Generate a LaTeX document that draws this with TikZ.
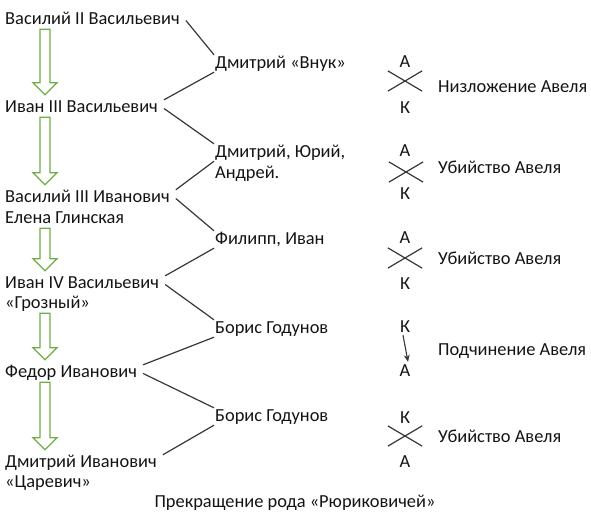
\documentclass[tikz,border=0pt]{standalone}
\usepackage{fontspec}
\setmainfont{Carlito}
\usetikzlibrary{calc,shapes.misc,arrows.meta}

\definecolor{gengreen}{RGB}{112,173,71}
\definecolor{linkgray}{RGB}{55,55,55}
\definecolor{inkblack}{RGB}{20,20,20}

\tikzset{
  ruler/.style={anchor=base west, inner xsep=6pt, inner ysep=1pt, text height=11pt, text depth=4pt},
  heir/.style={anchor=base west, inner xsep=1pt, inner ysep=2pt, text height=11pt, text depth=2pt},
  letter/.style={anchor=base, inner xsep=2pt, inner ysep=3pt, text height=11pt, text depth=0pt},
  note/.style={anchor=base west, inner sep=0pt},
  link/.style={linkgray, line width=1.2pt},
  crossmark/.style={cross out, draw=linkgray, line width=1.2pt, minimum width=33pt, minimum height=19pt, inner sep=0pt},
  genarrow/.style={draw=gengreen, line width=1.3pt, line join=miter},
}

% hollow green arrow from one ruler to the next
\newcommand{\succession}[2]{%
  \draw[genarrow] let \p1=(#1.south), \p2=(#2.north) in
    (40pt,\y1) -- (50pt,\y1) -- (50pt,\y2+17pt) -- (57pt,\y2+17pt) -- (45pt,\y2+5pt)
    -- (33pt,\y2+17pt) -- (40pt,\y2+17pt) -- cycle;}

\begin{document}
\begin{tikzpicture}[x=1pt, y=-1pt, >={Stealth[length=7pt,width=6pt]},
    every node/.style={font=\fontsize{18.4pt}{22pt}\selectfont, text=inkblack}]
    \useasboundingbox (0,0) rectangle (591,517);

    % Rulers
    \node[ruler] (v2) at (-1,24) {Василий II Васильевич};
    \node[ruler] (i3) at (-1,112) {Иван III Васильевич};
    \node[ruler] (v3) at (-1,202) {Василий III Иванович};
    \node[ruler] (v3b) at (-1,223) {Елена Глинская};
    \node[ruler] (i4) at (-1,288) {Иван IV Васильевич};
    \node[ruler] (i4b) at (-1,308) {«Грозный»};
    \node[ruler] (fed) at (-1,377) {Федор Иванович};
    \node[ruler] (di) at (-1,467) {Дмитрий Иванович};
    \node[ruler] (dib) at (-1,487) {«Царевич»};

    % Succession arrows
    \succession{v2}{i3}
    \succession{i3}{v3}
    \succession{v3b}{i4}
    \succession{i4b}{fed}
    \succession{fed}{di}

    % Rivals
    \node[heir] (d1) at (214,68) {Дмитрий «Внук»};
    \node[heir] (d2) at (214,157) {Дмитрий, Юрий,};
    \node[heir] (d2b) at (214,178) {Андрей.};
    \node[heir] (f) at (214,244) {Филипп, Иван};
    \node[heir] (b1) at (214,333) {Борис Годунов};
    \node[heir] (b2) at (214,421) {Борис Годунов};

    \draw[link] (v2.east) -- (d1.north west);
    \draw[link] (d1.south west) -- (i3.north east);
    \draw[link] (i3.east) -- (d2.north west);
    \draw[link] (d2.south west) -- (v3.north east);
    \draw[link] (v3.east) -- (f.north west);
    \draw[link] (f.south west) -- (i4.north east);
    \draw[link] (i4.east) -- (b1.north west);
    \draw[link] (b1.south west) -- (fed.north east);
    \draw[link] (fed.east) -- (b2.north west);
    \draw[link] (b2.south west) -- (di.north east);

    % Abel and Cain
    \node[letter] (a1) at (405,67) {А};
    \node[crossmark] (x1) at (405,81) {};
    \node[letter] (k1) at (405,113) {К};
    \node[note] (n1) at (438,92) {Низложение Авеля};

    \node[letter] (a2) at (405,156) {А};
    \node[crossmark] (x2) at (406,172) {};
    \node[letter] (k2) at (405,199) {К};
    \node[note] (n2) at (438,173) {Убийство Авеля};

    \node[letter] (a3) at (405,243) {А};
    \node[crossmark] (x3) at (405,258) {};
    \node[letter] (k3) at (405,289) {К};
    \node[note] (n3) at (438,264) {Убийство Авеля};

    \node[letter] (k4) at (405,332) {К};
    \node[letter] (a4) at (405,376) {А};
    \draw[link, line width=1.1pt, ->] ([xshift=-2pt]k4.south) -- ([xshift=3pt]a4.north);
    \node[note] (n4) at (438,355) {Подчинение Авеля};

    \node[letter] (k5) at (405,423) {К};
    \node[crossmark] (x5) at (405,436) {};
    \node[letter] (a5) at (405,467) {А};
    \node[note] (n5) at (438,442) {Убийство Авеля};

    % Caption
    \node[anchor=base, inner sep=0pt] (cap) at (295,507) {Прекращение рода «Рюриковичей»};
\end{tikzpicture}
\end{document}
